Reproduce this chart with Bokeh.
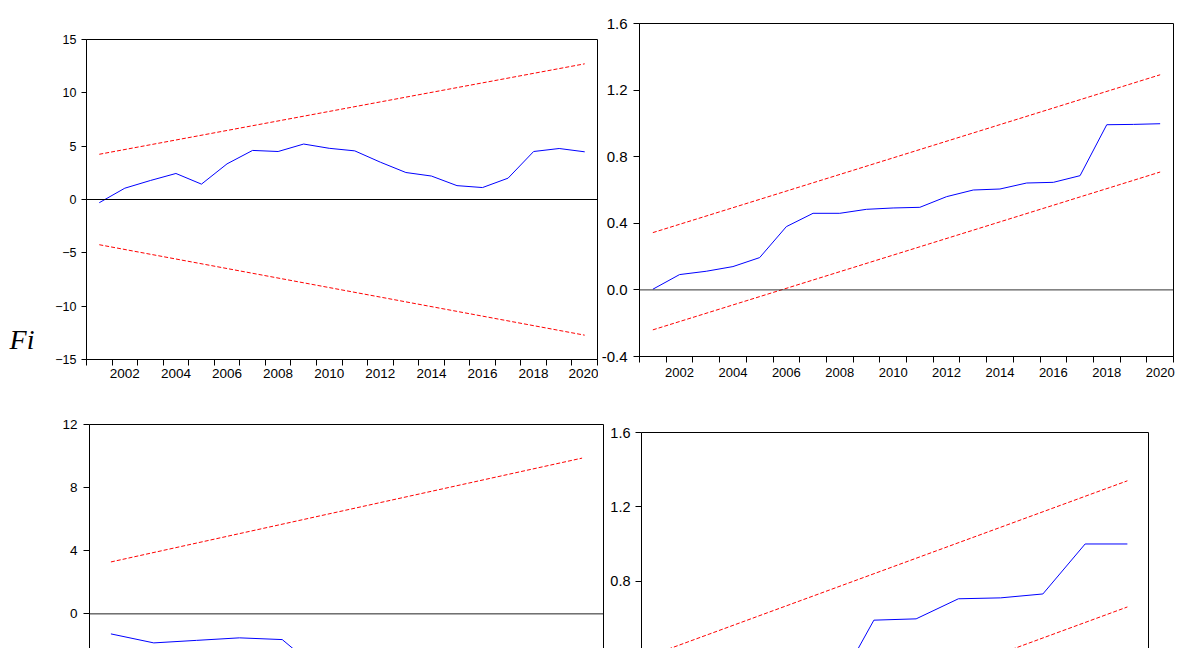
from bokeh.plotting import figure
from bokeh.layouts import row, column
from bokeh.models import Range1d, FixedTicker, Span, LinearAxis, NumeralTickFormatter
from bokeh.embed import file_html
from bokeh.resources import INLINE

# ---------------- data ----------------
years_a = [2001, 2002, 2003, 2004, 2005, 2006, 2007, 2008, 2009, 2010,
           2011, 2012, 2013, 2014, 2015, 2016, 2017, 2018, 2019, 2020]
cusum_a = [-0.30, 1.06, 1.78, 2.44, 1.44, 3.34, 4.60, 4.50, 5.20, 4.80,
           4.56, 3.50, 2.53, 2.20, 1.30, 1.12, 2.00, 4.50, 4.78, 4.47]
bound_years_a = [2001, 2020]
cusum_upper_a = [4.24, 12.72]
cusum_lower_a = [-4.24, -12.72]

cusumsq_a = [0.004, 0.092, 0.112, 0.140, 0.194, 0.380, 0.460, 0.460, 0.484, 0.492,
             0.496, 0.560, 0.600, 0.606, 0.642, 0.646, 0.686, 0.992, 0.994, 0.998]
sq_upper_a = [0.344, 1.292]
sq_lower_a = [-0.240, 0.708]

years_b = [2009, 2010, 2011, 2012, 2013, 2014, 2015, 2016, 2017, 2018, 2019, 2020]
cusum_b = [-1.27, -1.84, -1.68, -1.52, -1.63, -3.90, -3.70, -3.50, -3.60, -3.40, -5.80, -6.00]
bound_years_b = [2009, 2020]
cusum_upper_b = [3.29, 9.87]
cusum_lower_b = [-3.29, -9.87]

cusumsq_b = [0.010, 0.060, 0.100, 0.140, 0.180, 0.590, 0.597, 0.705, 0.710, 0.731, 1.000, 1.000]
sq_upper_b = [0.423, 1.340]
sq_lower_b = [-0.257, 0.661]

ticks_cusum_a = [-15, -10, -5, 0, 5, 10, 15]
ticks_sq = [-0.4, 0.0, 0.4, 0.8, 1.2, 1.6]
ticks_cusum_b = [-12, -8, -4, 0, 4, 8, 12]
year_labels = [2002, 2004, 2006, 2008, 2010, 2012, 2014, 2016, 2018, 2020]
side_text = "Fi"

FONT = "Liberation Sans"
BLUE = "#0000FF"
RED = "#FF0000"


def base_fig(w, h, left, right, top, bottom, xr, yr, x_loc="below"):
    p = figure(width=w, height=h, x_range=xr, y_range=yr,
               min_border_left=left, min_border_right=right,
               min_border_top=top, min_border_bottom=bottom,
               toolbar_location=None, output_backend="svg",
               x_axis_location=x_loc, title=None)
    p.xgrid.visible = False
    p.ygrid.visible = False
    p.background_fill_color = "white"
    p.border_fill_color = "white"
    try:
        p.frame_align = False
    except Exception:
        pass
    return p


def style_y(p, ticks, size, tick_out, standoff):
    ax = p.yaxis[0]
    ax.ticker = FixedTicker(ticks=ticks)
    ax.major_tick_out = tick_out
    ax.major_tick_in = 0
    ax.minor_tick_out = 0
    ax.minor_tick_in = 0
    ax.major_label_standoff = standoff
    ax.major_label_text_font = FONT
    ax.major_label_text_font_size = size
    ax.major_label_text_color = "black"
    ax.axis_line_color = "black"
    ax.major_tick_line_color = "black"


def style_x_years(p, lo, hi, size, standoff):
    ax = p.xaxis[0]
    bounds = [lo + 0.5 + k for k in range(int(hi - lo) + 1)]
    ax.ticker = FixedTicker(ticks=year_labels, minor_ticks=bounds)
    ax.major_tick_line_color = None
    ax.major_tick_out = 6
    ax.major_tick_in = 0
    ax.minor_tick_out = 6
    ax.minor_tick_in = 0
    ax.minor_tick_line_color = "black"
    ax.major_label_standoff = standoff
    ax.major_label_text_font = FONT
    ax.major_label_text_font_size = size
    ax.major_label_text_color = "black"
    ax.axis_line_color = "black"


def plain_axis(ax):
    ax.ticker = FixedTicker(ticks=[])
    ax.major_tick_out = 0
    ax.major_tick_in = 0
    ax.minor_tick_out = 0
    ax.minor_tick_in = 0
    ax.major_label_text_font_size = "0px"
    ax.axis_line_color = "black"


# ---------------- panel 1: CUSUM ----------------
p1 = base_fig(598, 395, 86, 1, 39, 36, Range1d(2000.5, 2020.5), Range1d(-15, 15))
p1.outline_line_color = "black"
p1.outline_line_alpha = 1
style_y(p1, ticks_cusum_a, "12.5px", 5, 5)
style_x_years(p1, 2000, 2020, "13.5px", 3)
p1.add_layout(Span(location=0, dimension="width", line_color="black", line_width=1))
p1.line(bound_years_a, cusum_upper_a, color=RED, line_width=1, line_dash="4 2")
p1.line(bound_years_a, cusum_lower_a, color=RED, line_width=1, line_dash="4 2")
p1.line(years_a, cusum_a, color=BLUE, line_width=1)
# side caption "Fi" (cropped text at the page's left edge)
fi_axis = LinearAxis(ticker=FixedTicker(ticks=[-13.1]),
                     major_label_overrides={-13.1: side_text})
fi_axis.axis_line_color = None
fi_axis.major_tick_line_color = None
fi_axis.major_tick_out = 0
fi_axis.major_tick_in = 0
fi_axis.minor_tick_out = 0
fi_axis.minor_tick_in = 0
fi_axis.major_label_standoff = 18
fi_axis.major_label_text_font = "Liberation Serif"
fi_axis.major_label_text_font_style = "italic"
fi_axis.major_label_text_font_size = "28px"
fi_axis.major_label_text_color = "black"
p1.add_layout(fi_axis, "left")

# ---------------- panel 2: CUSUM of squares ----------------
p2 = base_fig(581, 395, 39, 6, 23, 39, Range1d(2000.5, 2020.5), Range1d(-0.4, 1.6))
p2.outline_line_color = "black"
p2.outline_line_alpha = 1
style_y(p2, ticks_sq, "15px", 6, 6)
p2.yaxis[0].formatter = NumeralTickFormatter(format="0.0")
style_x_years(p2, 2000, 2020, "13px", 5)
p2.add_layout(Span(location=0, dimension="width", line_color="#333333", line_width=1))
p2.line(bound_years_a, sq_upper_a, color=RED, line_width=1, line_dash="4 2")
p2.line(bound_years_a, sq_lower_a, color=RED, line_width=1, line_dash="4 2")
p2.line(years_a, cusumsq_a, color=BLUE, line_width=1)

# ---------------- panel 3: CUSUM (cropped) ----------------
h3, top3, ppu3 = 253, 29, 15.78
p3 = base_fig(605, h3, 89, 2, top3, 0, Range1d(2008.5, 2020.5),
              Range1d(12 - (h3 - top3) / ppu3, 12), x_loc="above")
p3.outline_line_color = None
style_y(p3, ticks_cusum_b, "13.5px", 6, 6)
plain_axis(p3.xaxis[0])
r3 = LinearAxis()
plain_axis(r3)
p3.add_layout(r3, "right")
p3.add_layout(Span(location=0, dimension="width", line_color="#222222", line_width=1))
p3.line(bound_years_b, cusum_upper_b, color=RED, line_width=1, line_dash="4 2")
p3.line(bound_years_b, cusum_lower_b, color=RED, line_width=1, line_dash="4 2")
p3.line(years_b, cusum_b, color=BLUE, line_width=1)

# ---------------- panel 4: CUSUM of squares (cropped) ----------------
h4, top4, ppu4 = 253, 37, 185.8
p4 = base_fig(574, h4, 36, 31, top4, 0, Range1d(2008.5, 2020.5),
              Range1d(1.6 - (h4 - top4) / ppu4, 1.6), x_loc="above")
p4.outline_line_color = None
style_y(p4, ticks_sq, "14.5px", 6, 5)
p4.yaxis[0].formatter = NumeralTickFormatter(format="0.0")
plain_axis(p4.xaxis[0])
r4 = LinearAxis()
plain_axis(r4)
p4.add_layout(r4, "right")
p4.line(bound_years_b, sq_upper_b, color=RED, line_width=1, line_dash="4 2")
p4.line(bound_years_b, sq_lower_b, color=RED, line_width=1, line_dash="4 2")
p4.line(years_b, cusumsq_b, color=BLUE, line_width=1)

layout = column(row(p1, p2, spacing=0), row(p3, p4, spacing=0), spacing=0)

open("out.html", "w").write(file_html(layout, INLINE))
